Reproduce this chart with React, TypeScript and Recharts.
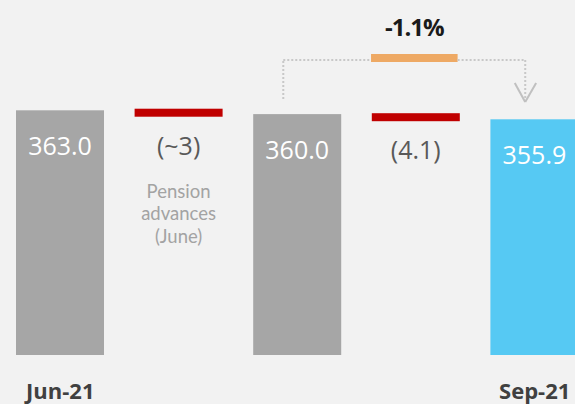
import { BarChart, Bar, XAxis, YAxis, Cell, LabelList, ReferenceLine, ReferenceArea } from "recharts";

// ── data ──────────────────────────────────────────────
const steps = ["Jun-21", "Pension advances", "Jun-21 adjusted", "Q3 movement", "Sep-21"];
const tickLabels = ["Jun-21", "", "", "", "Sep-21"];
const kinds = ["total", "delta", "total", "delta", "total"];
const amounts = [363.0, -3, 360.0, -4.1, 355.9];
const valueLabels = ["363.0", "(~3)", "360.0", "(4.1)", "355.9"];
const notes = [[], ["Pension", "advances", "(June)"], [], [], []];

// change between the adjusted Jun-21 level and Sep-21
const changePct = ((amounts[4] / amounts[2] - 1) * 100).toFixed(1) + "%";

// ── look ──────────────────────────────────────────────
const GRAY = "#a6a6a6";
const RED = "#c00000";
const CYAN = "#56c9f3";
const ORANGE = "#eea964";
const DOTS = "#c8c8c8";
const FONT = "'Open Sans', 'Noto Sans', sans-serif";

const Y_MIN = 170;
const Y_MAX = 450;

// bracket over the chart, on the x axis (one unit per step, step i centred at i + 0.5)
const BRACKET_X = [2.38, 4.42];
const BRACKET_LOW = 372;
const BRACKET_Y = 402.7;
const CHANGE_X = [3.12, 3.85];
const CHANGE_Y = [401.1, 407.4];
const ARROW_TIP = 369.5;
const ARROW_WING = 384.5;

let running = 0;
const data = steps.map((name, i) => {
  const pos = i + 0.5;
  if (kinds[i] === "total") {
    running = amounts[i];
    return { name, pos, kind: kinds[i], range: [Y_MIN, amounts[i]] };
  }
  const start = running;
  running = start + amounts[i];
  return { name, pos, kind: kinds[i], range: [running, start] };
});

function colorFor(i: number) {
  if (kinds[i] === "delta") return RED;
  return i === steps.length - 1 ? CYAN : GRAY;
}

function StepShape(props: any) {
  const { x, y, width, height, fill, payload } = props;
  if (payload && payload.kind === "delta") {
    const mid = y + height / 2;
    return <rect x={x} y={mid - 3.5} width={width} height={8} fill={fill} />;
  }
  return <rect x={x} y={y} width={width} height={height} fill={fill} />;
}

function StepLabel(props: any) {
  const { x, y, width, height, index } = props;
  const cx = x + width / 2;
  if (kinds[index] === "total") {
    return (
      <text x={cx} y={y + 45} textAnchor="middle" fill="#ffffff" fontSize={25} fontFamily={FONT}>
        {valueLabels[index]}
      </text>
    );
  }
  const bottom = y + height / 2 + 4.5;
  return (
    <g>
      <text x={cx} y={bottom + 38} textAnchor="middle" fill="#595959" fontSize={25} fontFamily={FONT}>
        {valueLabels[index]}
      </text>
      {notes[index].map((line, k) => (
        <text
          key={k}
          x={cx}
          y={bottom + 81 + k * 22.5}
          textAnchor="middle"
          fill="#a3a3a3"
          fontSize={18.5}
          fontFamily="Lato, 'Open Sans', sans-serif"
        >
          {line}
        </text>
      ))}
    </g>
  );
}

export default function App() {
  const dotted = { stroke: DOTS, strokeWidth: 2, strokeDasharray: "2 2" };
  return (
    <div style={{ width: 575, height: 404, overflow: "hidden", background: "#f2f2f2", position: "relative" }}>
      <style>{"body{margin:0;background:#f2f2f2}"}</style>
      <BarChart width={594} height={404} data={data} margin={{ top: 0, right: 0, left: 1, bottom: 0 }}>
        <XAxis
          dataKey="pos"
          type="number"
          domain={[0, steps.length]}
          allowDataOverflow
          ticks={data.map((d) => d.pos)}
          height={49}
          axisLine={false}
          tickLine={false}
          tickMargin={22}
          interval={0}
          tickFormatter={(v: number) => tickLabels[Math.floor(v)]}
          tick={{ fill: "#404040", fontSize: 22, fontWeight: 700, fontFamily: FONT }}
        />
        <YAxis hide type="number" domain={[Y_MIN, Y_MAX]} allowDataOverflow />
        <Bar dataKey="range" barSize={88} shape={StepShape} isAnimationActive={false}>
          {data.map((_d, i) => (
            <Cell key={i} fill={colorFor(i)} />
          ))}
          <LabelList dataKey="range" content={StepLabel} />
        </Bar>

        {/* dotted bracket from the adjusted Jun-21 bar to Sep-21 */}
        <ReferenceLine
          segment={[{ x: BRACKET_X[0], y: BRACKET_LOW }, { x: BRACKET_X[0], y: BRACKET_Y }]}
          {...dotted}
          ifOverflow="visible"
        />
        <ReferenceLine
          segment={[{ x: BRACKET_X[0], y: BRACKET_Y }, { x: CHANGE_X[0], y: BRACKET_Y }]}
          {...dotted}
          ifOverflow="visible"
        />
        <ReferenceLine
          segment={[{ x: CHANGE_X[1], y: BRACKET_Y }, { x: BRACKET_X[1], y: BRACKET_Y }]}
          {...dotted}
          ifOverflow="visible"
        />
        <ReferenceLine
          segment={[{ x: BRACKET_X[1], y: BRACKET_Y }, { x: BRACKET_X[1], y: ARROW_TIP + 2 }]}
          {...dotted}
          ifOverflow="visible"
        />
        <ReferenceLine
          segment={[{ x: BRACKET_X[1] - 0.088, y: ARROW_WING }, { x: BRACKET_X[1], y: ARROW_TIP }]}
          stroke="#c0c0c0"
          strokeWidth={2}
          ifOverflow="visible"
        />
        <ReferenceLine
          segment={[{ x: BRACKET_X[1] + 0.092, y: ARROW_WING }, { x: BRACKET_X[1], y: ARROW_TIP }]}
          stroke="#c0c0c0"
          strokeWidth={2}
          ifOverflow="visible"
        />
        <ReferenceArea
          x1={CHANGE_X[0]}
          x2={CHANGE_X[1]}
          y1={CHANGE_Y[0]}
          y2={CHANGE_Y[1]}
          fill={ORANGE}
          fillOpacity={1}
          stroke="none"
          ifOverflow="visible"
          label={{
            value: changePct,
            position: "top",
            offset: 18,
            fill: "#1a1a1a",
            fontSize: 24,
            fontWeight: 700,
            fontFamily: FONT,
            letterSpacing: -1,
          }}
        />
      </BarChart>
    </div>
  );
}
